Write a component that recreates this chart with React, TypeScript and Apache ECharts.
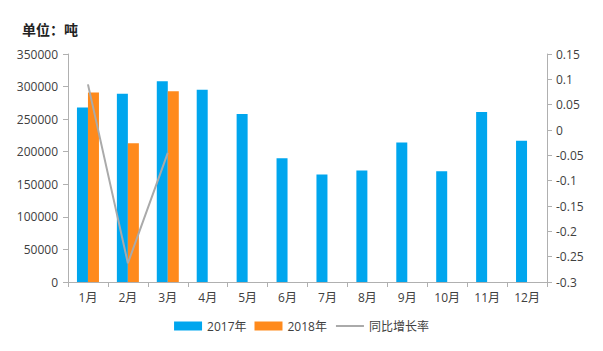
import React, { useEffect, useRef } from "react";
import * as echarts from "echarts";

const categories = ["1月", "2月", "3月", "4月", "5月", "6月", "7月", "8月", "9月", "10月", "11月", "12月"];
const values2017 = [268000, 289000, 308000, 295000, 258000, 190000, 165000, 171000, 214000, 170000, 261000, 217000];
const values2018 = [291000, 213000, 293000];
const growthRate = [0.09, -0.263, -0.045];

export default function App() {
  const ref = useRef<HTMLDivElement>(null);
  useEffect(() => {
    if (!ref.current) return;
    const chart = echarts.init(ref.current, null, { renderer: "svg" });
    const font = "'Open Sans', 'Noto Sans CJK SC', sans-serif";
    const axisLabel = { color: "#404040", fontSize: 12, fontFamily: font };
    chart.setOption({
      animation: false,
      backgroundColor: "#ffffff",
      title: {
        text: "单位：吨",
        left: 17,
        top: 17,
        textStyle: { fontSize: 14, fontWeight: "bold", color: "#222", fontFamily: "'Noto Sans CJK SC', sans-serif" },
      },
      legend: {
        bottom: 14,
        left: "center",
        itemWidth: 28,
        itemHeight: 9,
        itemGap: 8,
        textStyle: { color: "#404040", fontSize: 12, fontFamily: font },
        data: [
          { name: "2017年", icon: "rect" },
          { name: "2018年", icon: "rect" },
          { name: "同比增长率", itemStyle: { opacity: 0 } },
        ],
      },
      grid: { left: 68, right: 56, top: 54, bottom: 69 },
      xAxis: {
        type: "category",
        data: categories,
        axisLine: { lineStyle: { color: "#b0b0b0" } },
        axisTick: { show: true, alignWithLabel: false, lineStyle: { color: "#b0b0b0" }, length: 5 },
        axisLabel: { ...axisLabel, margin: 9 },
      },
      yAxis: [
        {
          type: "value",
          min: 0,
          max: 350000,
          interval: 50000,
          axisLine: { show: true, lineStyle: { color: "#b0b0b0" } },
          axisTick: { show: true, lineStyle: { color: "#b0b0b0" }, length: 5 },
          axisLabel: { ...axisLabel, margin: 10, formatter: (v: number) => String(v) },
          splitLine: { show: false },
        },
        {
          type: "value",
          min: -0.3,
          max: 0.15,
          interval: 0.05,
          position: "right",
          axisLine: { show: true, lineStyle: { color: "#b0b0b0" } },
          axisTick: { show: true, lineStyle: { color: "#b0b0b0" }, length: 5 },
          axisLabel: { ...axisLabel, margin: 9, formatter: (v: number) => String(parseFloat(v.toFixed(2))) },
          splitLine: { show: false },
        },
      ],
      series: [
        {
          name: "2017年",
          type: "bar",
          data: values2017,
          barWidth: 11,
          barGap: "0%",
          itemStyle: { color: "#00A6EE" },
        },
        {
          name: "2018年",
          type: "bar",
          data: values2018,
          barWidth: 11,
          barGap: "0%",
          itemStyle: { color: "#FF8A1C" },
        },
        {
          name: "同比增长率",
          type: "line",
          yAxisIndex: 1,
          data: growthRate,
          symbol: "none",
          lineStyle: { color: "#AAAAAA", width: 2 },
          itemStyle: { color: "#AAAAAA" },
        },
      ],
    });
    return () => chart.dispose();
  }, []);
  return <div ref={ref} style={{ width: 603, height: 351, position: "absolute", left: 0, top: 0 }} />;
}
